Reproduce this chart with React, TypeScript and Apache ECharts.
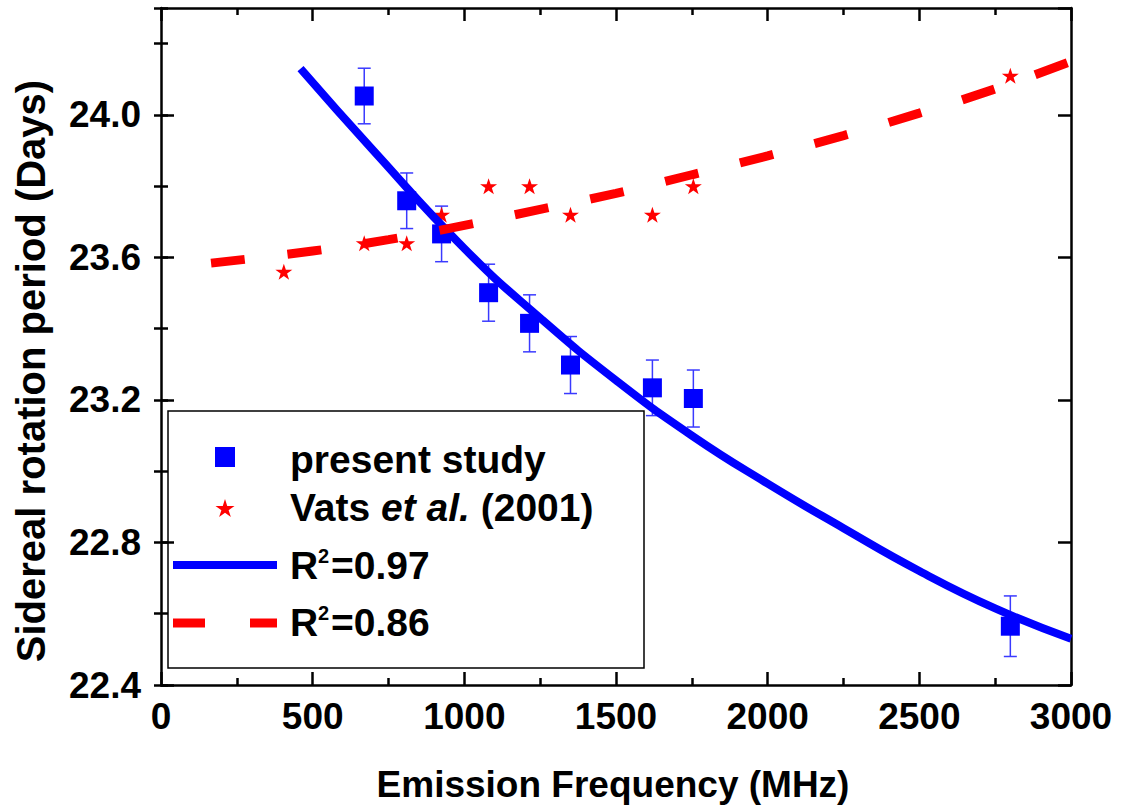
import React, { useEffect, useRef } from "react";
import * as echarts from "echarts";

// ---- data ----
const studyFreq = [670, 810, 925, 1080, 1215, 1350, 1620, 1755, 2800];
const studyPeriod = [24.053, 23.759, 23.666, 23.501, 23.415, 23.298, 23.234, 23.204, 22.565];
const studyErr = [0.078, 0.078, 0.078, 0.08, 0.08, 0.08, 0.078, 0.08, 0.085];

const vatsFreq = [405, 670, 810, 925, 1080, 1215, 1350, 1620, 1755, 2800];
const vatsPeriod = [23.56, 23.64, 23.64, 23.72, 23.8, 23.8, 23.72, 23.72, 23.8, 24.11];

const fitStudyFreq = [460, 700, 1000, 1250, 1500, 1750, 2000, 2250, 2500, 2750, 3000];
const fitStudyPeriod = [24.13, 23.9, 23.625, 23.43, 23.255, 23.1, 22.965, 22.84, 22.72, 22.615, 22.53];

const fitVatsFreq = [165, 500, 750, 1000, 1250, 1500, 1750, 2000, 2250, 2500, 2750, 3000];
const fitVatsPeriod = [23.584, 23.618, 23.65, 23.69, 23.735, 23.78, 23.832, 23.885, 23.942, 24.005, 24.073, 24.15];

const xTicks = { min: 0, max: 3000, major: 500 };
const yTicks = { min: 22.4, max: 24.3, major: 0.4, minor: 0.2 };

const legendLabels = ["present study", "Vats ", "et al.", " (2001)", "=0.97", "=0.86"];
const xTitle = "Emission Frequency (MHz)";
const yTitle = "Sidereal rotation period (Days)";

const FONT = '"Liberation Sans", Arial, Helvetica, sans-serif';
const STAR =
  "path://M50,0 L61.23,34.55 L97.55,34.55 L68.17,55.9 L79.39,90.45 L50,69.1 L20.61,90.45 L31.83,55.9 L2.45,34.55 L38.77,34.55 Z";

function starPoints(cx: number, cy: number, R: number) {
  const pts: number[][] = [];
  const r = R * 0.382;
  for (let i = 0; i < 10; i++) {
    const ang = -Math.PI / 2 + (i * Math.PI) / 5;
    const rad = i % 2 === 0 ? R : r;
    pts.push([cx + rad * Math.cos(ang), cy + rad * Math.sin(ang)]);
  }
  return pts;
}

export default function App() {
  const ref = useRef<HTMLDivElement>(null);
  useEffect(() => {
    if (!ref.current) return;
    const chart = echarts.init(ref.current, null, { renderer: "svg" });
    const black = "#000";
    const axisLine = { show: true, onZero: false, lineStyle: { color: black, width: 2.5 } };
    const tickMajor = { show: true, inside: true, length: 13, lineStyle: { color: black, width: 2.5 } };
    const tickMinor = { show: true, inside: true, length: 7, lineStyle: { color: black, width: 2.5 } };
    const noLabel = { show: false };

    const xBase = {
      type: "value",
      min: xTicks.min,
      max: xTicks.max,
      interval: xTicks.major,
      splitLine: { show: false },
      axisLine,
      axisTick: tickMajor,
      minorTick: { show: true, splitNumber: 2, length: 7, lineStyle: { color: black, width: 2.5 } },
    };
    const yMajor = {
      type: "value",
      min: yTicks.min,
      max: yTicks.max,
      interval: yTicks.major,
      splitLine: { show: false },
      axisLine,
      axisTick: tickMajor,
    };
    const yMinor = {
      type: "value",
      min: yTicks.min,
      max: yTicks.max,
      interval: yTicks.minor,
      splitLine: { show: false },
      axisLine: { show: false },
      axisTick: tickMinor,
      axisLabel: noLabel,
    };

    const errStyle = { stroke: "#3a3aff", lineWidth: 1.5 };

    const option: any = {
      animation: false,
      backgroundColor: "#ffffff",
      grid: { left: 161, right: 52, top: 8, bottom: 123 },
      xAxis: [
        {
          ...xBase,
          position: "bottom",
          axisLabel: {
            margin: 13,
            color: black,
            fontSize: 37,
            fontWeight: "bold",
            fontFamily: FONT,
            formatter: (v: number) => String(v),
          },
        },
        { ...xBase, position: "top", axisLabel: noLabel },
      ],
      yAxis: [
        {
          ...yMajor,
          position: "left",
          axisLabel: {
            margin: 20,
            color: black,
            fontSize: 37,
            fontWeight: "bold",
            fontFamily: FONT,
            showMaxLabel: false,
            formatter: (v: number) => v.toFixed(1),
          },
        },
        { ...yMinor, position: "left" },
        { ...yMajor, position: "right", axisLabel: noLabel },
        { ...yMinor, position: "right" },
      ],
      series: [
        {
          type: "custom",
          xAxisIndex: 0,
          yAxisIndex: 0,
          data: studyFreq.map((f, i) => [f, studyPeriod[i] - studyErr[i], studyPeriod[i] + studyErr[i]]),
          renderItem: (params: any, api: any) => {
            const lo = api.coord([api.value(0), api.value(1)]);
            const hi = api.coord([api.value(0), api.value(2)]);
            const hw = 6.5;
            return {
              type: "group",
              children: [
                { type: "line", shape: { x1: lo[0], y1: lo[1], x2: hi[0], y2: hi[1] }, style: errStyle },
                { type: "line", shape: { x1: lo[0] - hw, y1: lo[1], x2: lo[0] + hw, y2: lo[1] }, style: errStyle },
                { type: "line", shape: { x1: hi[0] - hw, y1: hi[1], x2: hi[0] + hw, y2: hi[1] }, style: errStyle },
              ],
            };
          },
        },
        {
          type: "line",
          name: "R2=0.97",
          xAxisIndex: 0,
          yAxisIndex: 0,
          data: fitStudyFreq.map((f, i) => [f, fitStudyPeriod[i]]),
          smooth: 0.5,
          showSymbol: false,
          symbol: "none",
          lineStyle: { color: "#0000ff", width: 8, opacity: 1 },
        },
        {
          type: "line",
          name: "R2=0.86",
          xAxisIndex: 0,
          yAxisIndex: 0,
          data: fitVatsFreq.map((f, i) => [f, fitVatsPeriod[i]]),
          smooth: 0.5,
          showSymbol: false,
          symbol: "none",
          lineStyle: { color: "#ff0000", width: 9, type: [34, 43], opacity: 1 },
        },
        {
          type: "scatter",
          name: "present study",
          xAxisIndex: 0,
          yAxisIndex: 0,
          data: studyFreq.map((f, i) => [f, studyPeriod[i]]),
          symbol: "rect",
          symbolSize: 19,
          itemStyle: { color: "#0000ff", opacity: 1 },
        },
        {
          type: "scatter",
          name: "Vats et al. (2001)",
          xAxisIndex: 0,
          yAxisIndex: 0,
          data: vatsFreq.map((f, i) => [f, vatsPeriod[i]]),
          symbol: STAR,
          symbolSize: [17, 16],
          itemStyle: { color: "#ff0000", opacity: 1 },
        },
      ],
      graphic: [
        {
          type: "text",
          x: 31,
          y: 371,
          rotation: Math.PI / 2,
          style: {
            text: yTitle,
            fill: black,
            fontSize: 40,
            fontWeight: "bold",
            fontFamily: FONT,
            align: "center",
            verticalAlign: "middle",
          },
        },
        {
          type: "text",
          x: 613,
          y: 784,
          style: {
            text: xTitle,
            fill: black,
            fontSize: 37,
            fontWeight: "bold",
            fontFamily: FONT,
            align: "center",
            verticalAlign: "middle",
          },
        },
        {
          type: "group",
          z: 100,
          children: [
            {
              type: "rect",
              shape: { x: 168, y: 411, width: 476, height: 257 },
              style: { fill: "#fff", stroke: black, lineWidth: 1.5 },
            },
            { type: "rect", shape: { x: 215, y: 447, width: 20, height: 20 }, style: { fill: "#0000ff" } },
            { type: "polygon", shape: { points: starPoints(225, 509, 10) }, style: { fill: "#ff0000" } },
            {
              type: "line",
              shape: { x1: 173, y1: 565, x2: 277, y2: 565 },
              style: { stroke: "#0000ff", lineWidth: 8 },
            },
            {
              type: "line",
              shape: { x1: 173, y1: 623, x2: 205, y2: 623 },
              style: { stroke: "#ff0000", lineWidth: 9 },
            },
            {
              type: "line",
              shape: { x1: 250, y1: 623, x2: 277, y2: 623 },
              style: { stroke: "#ff0000", lineWidth: 9 },
            },
            {
              type: "text",
              x: 290,
              y: 459,
              style: {
                text: legendLabels[0],
                fill: black,
                fontSize: 39,
                fontWeight: "bold",
                fontFamily: FONT,
                verticalAlign: "middle",
              },
            },
            {
              type: "text",
              x: 290,
              y: 507,
              style: {
                text: "{b|" + legendLabels[1] + "}{i|" + legendLabels[2] + "}{b|" + legendLabels[3] + "}",
                verticalAlign: "middle",
                rich: {
                  b: { fontSize: 39, fontWeight: "bold", fontFamily: FONT, fill: black, color: black },
                  i: { fontSize: 39, fontWeight: "bold", fontStyle: "italic", fontFamily: FONT, fill: black, color: black },
                },
              },
            },
            ...[0, 1].map((k) => ({
              type: "group",
              children: [
                {
                  type: "text",
                  x: 290,
                  y: 565 + k * 57,
                  style: { text: "R", fill: black, fontSize: 39, fontWeight: "bold", fontFamily: FONT, verticalAlign: "middle" },
                },
                {
                  type: "text",
                  x: 318,
                  y: 556 + k * 57,
                  style: { text: "2", fill: black, fontSize: 20, fontWeight: "bold", fontFamily: FONT, verticalAlign: "middle" },
                },
                {
                  type: "text",
                  x: 331,
                  y: 565 + k * 57,
                  style: {
                    text: legendLabels[4 + k],
                    fill: black,
                    fontSize: 39,
                    fontWeight: "bold",
                    fontFamily: FONT,
                    verticalAlign: "middle",
                  },
                },
              ],
            })),
          ],
        },
      ],
    };
    chart.setOption(option);
    return () => chart.dispose();
  }, []);
  return (
    <div
      ref={ref}
      style={{ position: "absolute", left: 0, top: 0, width: 1123, height: 808, background: "#fff" }}
    />
  );
}
